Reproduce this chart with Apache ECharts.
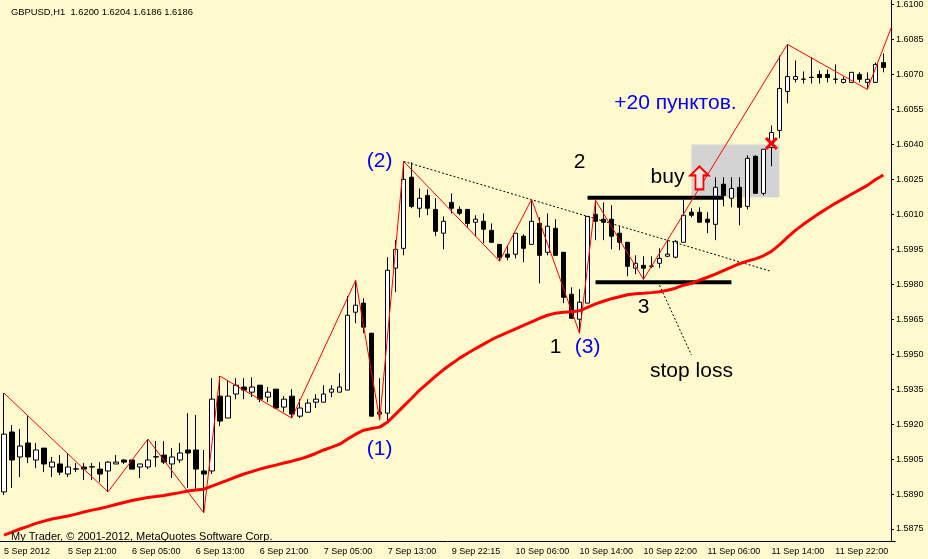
<!DOCTYPE html>
<html><head><meta charset="utf-8">
<script src="https://cdn.jsdelivr.net/npm/echarts@6/dist/echarts.min.js"></script>
<style>html,body{margin:0;padding:0;background:#fffacd}#c{width:928px;height:559px}</style>
</head><body><div id="c"></div><script>
const tickLabels = ['5 Sep 2012','5 Sep 21:00','6 Sep 05:00','6 Sep 13:00','6 Sep 21:00','7 Sep 05:00','7 Sep 13:00','9 Sep 22:15','10 Sep 06:00','10 Sep 14:00','10 Sep 22:00','11 Sep 06:00','11 Sep 14:00','11 Sep 22:00'];
const priceTicks = ['1.5875','1.5890','1.5905','1.5920','1.5935','1.5950','1.5965','1.5980','1.5995','1.6010','1.6025','1.6040','1.6055','1.6070','1.6085','1.6100'];
const opens = [1.58909,1.59166,1.59059,1.59119,1.59046,1.59097,1.59016,1.59029,1.58986,1.59007,1.59016,1.59016,1.59007,1.58999,1.59029,1.59046,1.59046,1.59016,1.59016,1.59059,1.59067,1.59029,1.59046,1.59089,1.59089,1.58999,1.58999,1.59320,1.59226,1.59329,1.59359,1.59337,1.59367,1.59316,1.59350,1.59273,1.59320,1.59234,1.59251,1.59294,1.59294,1.59337,1.59337,1.59346,1.59680,1.59719,1.59590,1.59243,1.59247,1.59869,1.59954,1.60259,1.60126,1.60181,1.60121,1.60019,1.60151,1.60121,1.60121,1.60066,1.60070,1.60031,1.59971,1.59929,1.59929,1.60006,1.59971,1.60061,1.59937,1.60040,1.59937,1.59757,1.59650,1.59719,1.60100,1.60079,1.60079,1.60019,1.59980,1.59869,1.59881,1.59877,1.59890,1.59920,1.59916,1.59980,1.60109,1.60109,1.60079,1.60057,1.60229,1.60169,1.60216,1.60134,1.60349,1.60190,1.60387,1.60460,1.60627,1.60679,1.60679,1.60687,1.60700,1.60700,1.60679,1.60666,1.60666,1.60700,1.60666,1.60666,1.60751];
const closes = [1.59157,1.59046,1.59106,1.59059,1.59089,1.59029,1.59037,1.58994,1.59016,1.59008,1.59007,1.59017,1.58986,1.59037,1.59037,1.59037,1.59007,1.59029,1.59046,1.59060,1.59037,1.59059,1.59076,1.59076,1.59007,1.58986,1.59307,1.59213,1.59320,1.59367,1.59346,1.59359,1.59307,1.59337,1.59269,1.59307,1.59243,1.59269,1.59290,1.59307,1.59329,1.59350,1.59359,1.59667,1.59710,1.59616,1.59234,1.59251,1.59860,1.59950,1.60250,1.60134,1.60169,1.60126,1.60027,1.60070,1.60126,1.60104,1.60061,1.60079,1.60036,1.59980,1.59916,1.59916,1.60019,1.59954,1.60070,1.59924,1.60049,1.59924,1.59744,1.59654,1.59723,1.60091,1.60070,1.60066,1.60006,1.59980,1.59877,1.59890,1.59869,1.59878,1.59911,1.59929,1.59984,1.60096,1.60096,1.60066,1.60066,1.60216,1.60181,1.60211,1.60130,1.60340,1.60190,1.60379,1.60451,1.60640,1.60691,1.60691,1.60680,1.60688,1.60687,1.60687,1.60680,1.60679,1.60709,1.60679,1.60679,1.60743,1.60730];
const lows = [1.58896,1.58926,1.58973,1.59033,1.59011,1.58994,1.58973,1.58981,1.58973,1.58994,1.58960,1.58960,1.58951,1.58909,1.59029,1.59029,1.59007,1.58969,1.59007,1.59016,1.59029,1.58969,1.59033,1.58926,1.58917,1.58819,1.58986,1.59191,1.59226,1.59307,1.59307,1.59316,1.59294,1.59294,1.59264,1.59251,1.59226,1.59226,1.59251,1.59269,1.59294,1.59316,1.59337,1.59346,1.59633,1.59590,1.59234,1.59217,1.59204,1.59766,1.59924,1.60126,1.60087,1.60096,1.60006,1.59950,1.60104,1.60096,1.60044,1.60006,1.59976,1.59980,1.59899,1.59903,1.59911,1.59894,1.59971,1.59804,1.59924,1.59924,1.59719,1.59654,1.59590,1.59719,1.59989,1.59989,1.59950,1.59946,1.59834,1.59843,1.59821,1.59869,1.59869,1.59916,1.59911,1.59980,1.60087,1.60066,1.60019,1.59989,1.60134,1.60130,1.60053,1.60121,1.60190,1.60181,1.60306,1.60426,1.60576,1.60666,1.60661,1.60661,1.60661,1.60666,1.60661,1.60661,1.60666,1.60666,1.60636,1.60666,1.60709];
const highs = [1.59333,1.59196,1.59179,1.59234,1.59119,1.59097,1.59059,1.59067,1.59076,1.59033,1.59033,1.59033,1.59037,1.59041,1.59067,1.59050,1.59046,1.59029,1.59136,1.59127,1.59127,1.59097,1.59119,1.59247,1.59239,1.59089,1.59397,1.59406,1.59389,1.59397,1.59397,1.59401,1.59367,1.59359,1.59350,1.59320,1.59350,1.59307,1.59307,1.59329,1.59367,1.59367,1.59419,1.59749,1.59817,1.59740,1.59590,1.59397,1.59916,1.59989,1.60327,1.60323,1.60211,1.60207,1.60169,1.60091,1.60190,1.60134,1.60121,1.60096,1.60104,1.60061,1.59971,1.59967,1.60019,1.60014,1.60164,1.60087,1.60104,1.60079,1.59937,1.59787,1.59779,1.60091,1.60160,1.60151,1.60139,1.60049,1.59980,1.59924,1.59920,1.59920,1.59954,1.59989,1.59989,1.60164,1.60126,1.60130,1.60109,1.60259,1.60259,1.60259,1.60259,1.60353,1.60353,1.60379,1.60481,1.60781,1.60829,1.60760,1.60713,1.60773,1.60717,1.60721,1.60743,1.60691,1.60709,1.60709,1.60709,1.60751,1.60790];
const ma = [1.58724,1.58737,1.58750,1.58761,1.58774,1.58784,1.58793,1.58799,1.58806,1.58814,1.58823,1.58831,1.58838,1.58846,1.58855,1.58864,1.58872,1.58879,1.58885,1.58889,1.58894,1.58900,1.58906,1.58913,1.58917,1.58921,1.58934,1.58947,1.58960,1.58973,1.58986,1.58996,1.59007,1.59016,1.59024,1.59033,1.59041,1.59050,1.59061,1.59074,1.59089,1.59101,1.59114,1.59136,1.59157,1.59174,1.59181,1.59187,1.59209,1.59243,1.59277,1.59311,1.59346,1.59376,1.59406,1.59434,1.59459,1.59483,1.59504,1.59524,1.59543,1.59562,1.59579,1.59594,1.59609,1.59624,1.59639,1.59654,1.59667,1.59676,1.59680,1.59682,1.59686,1.59701,1.59716,1.59727,1.59738,1.59746,1.59755,1.59759,1.59761,1.59764,1.59768,1.59774,1.59783,1.59796,1.59804,1.59817,1.59830,1.59843,1.59858,1.59873,1.59888,1.59899,1.59909,1.59922,1.59941,1.59969,1.60001,1.60031,1.60057,1.60081,1.60104,1.60126,1.60147,1.60166,1.60186,1.60205,1.60224,1.60248,1.60269];
const zigzag = [[0,1.59333],[13,1.58909],[18,1.59136],[25,1.58819],[27,1.59406],[36,1.59226],[44,1.59817],[47,1.59217],[50,1.60327],[62,1.59899],[66,1.60164],[72,1.59590],[74,1.60160],[80,1.59821],[98,1.60829],[108,1.60636],[111,1.60901]];
const resistanceLine = [[73,1.60171],[90,1.60171]];
const supportLine = [[74,1.59809],[91,1.59809]];
const trendLine = [[50,1.60327],[96,1.59855]];
const stopLine = [[82,1.59796],[86,1.59496]];
const profitBox = [[86,1.60399],[97,1.60173]];
const notes = [
  {text:'(2)', x:47, p:1.60327, color:'#0000ff'},
  {text:'(1)', x:47, p:1.59093, color:'#0000ff'},
  {text:'(3)', x:73, p:1.59532, color:'#0000ff'},
  {text:'2', x:72, p:1.60323, color:'#000000'},
  {text:'1', x:69, p:1.59530, color:'#000000'},
  {text:'3', x:80, p:1.59701, color:'#000000'},
  {text:'buy', x:83, p:1.60259, color:'#000000'},
  {text:'stop loss', x:86, p:1.59427, color:'#000000'},
  {text:'+20 пунктов.', x:84, p:1.60576, color:'#0000ff'}
];
const buyArrow = [87, 1.60256];
const exitCross = [96, 1.60404];

const nCat = opens.length + 1;
const categories = [];
for (let i = 0; i < nCat; i++) categories.push(String(i));
const candles = opens.map((o, i) => [o, closes[i], lows[i], highs[i]]);
const font = 'Liberation Sans, Arial, sans-serif';

const chart = echarts.init(document.getElementById('c'), null, {renderer: 'canvas'});
chart.setOption({
  animation: false,
  backgroundColor: '#fffacd',
  textStyle: {fontFamily: font},
  title: [
    {text: 'GBPUSD,H1  1.6200 1.6204 1.6186 1.6186', left: 6, top: 3,
     textStyle: {fontSize: 9.4, fontWeight: 'normal', color: '#000', fontFamily: font}},
    {text: 'My Trader, © 2001-2012, MetaQuotes Software Corp.', left: 6, top: 526,
     textStyle: {fontSize: 11, fontWeight: 'normal', color: '#000', fontFamily: font}}
  ],
  grid: {left: -0.7, top: 0, width: 896, height: 541.5, containLabel: false},
  xAxis: {
    type: 'category', data: categories, boundaryGap: true,
    axisLine: {lineStyle: {color: '#000', width: 1}},
    axisTick: {alignWithLabel: true, interval: 7, length: 3, lineStyle: {color: '#000'}},
    axisLabel: {interval: 7, align: 'left', margin: 6, fontSize: 9, color: '#000', fontFamily: font,
      formatter: (v, idx) => tickLabels[idx / 8] || ''},
    splitLine: {show: false}
  },
  yAxis: {
    type: 'value', position: 'right', offset: -4.3,
    min: 1.586964, max: 1.610171, scale: true,
    axisLine: {show: true, lineStyle: {color: '#000', width: 1}},
    axisTick: {show: true, length: 3, lineStyle: {color: '#000'}, customValues: priceTicks.map(Number)},
    axisLabel: {margin: 5, fontSize: 9, color: '#000', fontFamily: font,
      customValues: priceTicks.map(Number), formatter: v => v.toFixed(4)},
    splitLine: {show: false}
  },
  series: [
    {type: 'line', data: [], z: 1, silent: true,
     markArea: {silent: true, itemStyle: {color: '#d3d3d3', opacity: 1},
       data: [[{coord: profitBox[0]}, {coord: profitBox[1]}]]}},
    {type: 'candlestick', data: candles, barWidth: 5, z: 2,
     itemStyle: {color: '#ffffff', color0: '#000000', borderColor: '#000000', borderColor0: '#000000', borderWidth: 1}},
    {type: 'line', data: trendLine, symbol: 'none', z: 3, lineStyle: {color: '#000', width: 1, type: [2, 2]}},
    {type: 'line', data: stopLine, symbol: 'none', z: 3, lineStyle: {color: '#000', width: 1, type: [2, 2]}},
    {type: 'line', data: resistanceLine, symbol: 'none', z: 4, lineStyle: {color: '#000', width: 4}},
    {type: 'line', data: supportLine, symbol: 'none', z: 4, lineStyle: {color: '#000', width: 4}},
    {type: 'line', data: ma, symbol: 'none', z: 5, lineStyle: {color: '#ff0000', width: 3}},
    {type: 'line', data: zigzag, symbol: 'none', z: 6, lineStyle: {color: '#ff0000', width: 1}},
    {type: 'scatter', z: 7, itemStyle: {opacity: 1}, data: [
      {value: buyArrow, symbol: 'path://M9,0 L18,9 L13,9 L13,23 L5,23 L5,9 L0,9 Z', symbolSize: [18, 23],
       itemStyle: {color: '#ece8e0', borderColor: '#ff0000', borderWidth: 2, opacity: 1}},
      {value: exitCross, symbol: 'path://M0,2 L2,0 L6,4 L10,0 L12,2 L8,6 L12,10 L10,12 L6,8 L2,12 L0,10 L4,6 Z', symbolSize: [13, 13],
       itemStyle: {color: '#ff0000', opacity: 1}}
    ]},
    {type: 'scatter', z: 8, symbolSize: 0, itemStyle: {color: 'rgba(0,0,0,0)', opacity: 1},
     data: notes.map(n => ({value: [n.x, n.p],
       label: {show: true, position: 'inside', formatter: n.text, color: n.color, fontSize: 21, fontFamily: font,
               opacity: 1, textBorderWidth: 0, textBorderColor: 'transparent', textShadowBlur: 0}}))}
  ]
});
</script></body></html>
